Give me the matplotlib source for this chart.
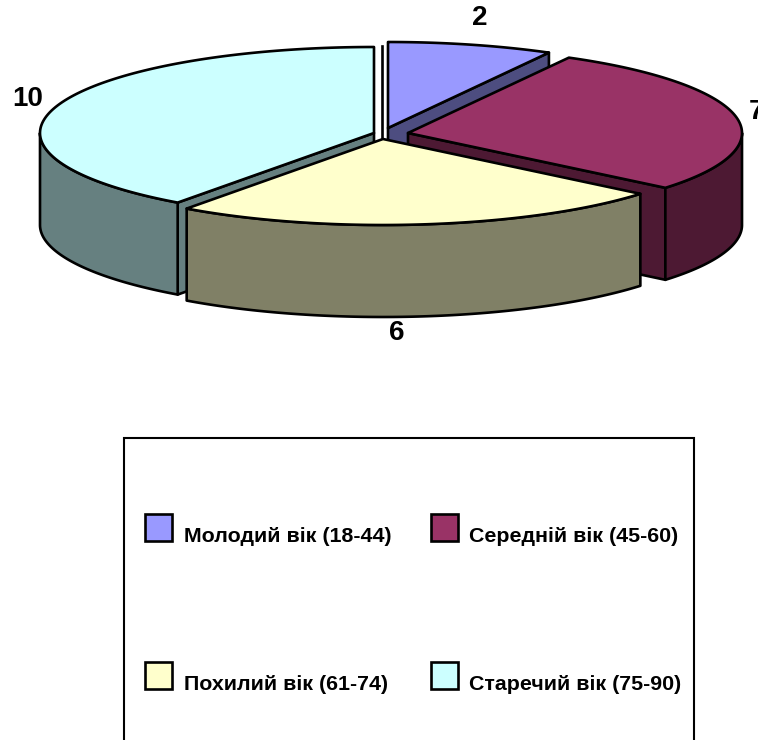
import numpy as np
import matplotlib
matplotlib.use('Agg')
import matplotlib.pyplot as plt
from matplotlib.patches import Polygon, Rectangle

plt.rcParams['font.family'] = ['Liberation Sans', 'DejaVu Sans']

# Data
categories = ['Молодий вік (18-44)', 'Середній вік (45-60)', 'Похилий вік (61-74)', 'Старечий вік (75-90)']
values = [2, 7, 6, 10]
top_colors = ['#9999FF', '#993366', '#FFFFCC', '#CCFFFF']
side_colors = ['#4D4D80', '#4D1933', '#808066', '#668080']

# Pie geometry in image pixels
apex = [(388, 128), (408, 133), (383, 139), (374, 133)]
rx, ry, depth = 334, 86, 92
lw = 1.9

fig = plt.figure(figsize=(7.58, 7.4), dpi=100)
ax = fig.add_axes([0, 0, 1, 1])
ax.set_xlim(0, 758)
ax.set_ylim(740, 0)
ax.axis('off')

# Angles run clockwise from the top, one slice after another
edges = 2 * np.pi * np.concatenate([[0], np.cumsum(values)]) / np.sum(values)


def rim(i, a0, a1):
    t = np.linspace(a0, a1, 120)
    return apex[i][0] + rx * np.sin(t), apex[i][1] - ry * np.cos(t)


def draw_slice(i):
    a0, a1 = edges[i], edges[i + 1]
    cx, cy = apex[i]
    face = dict(facecolor=side_colors[i], edgecolor='black', lw=lw, joinstyle='round')

    # Cut faces that look towards the viewer
    for a, visible in ((a0, np.cos(a0) < 0 and np.sin(a0) < 0), (a1, np.cos(a1) > 0 or np.sin(a1) > 0)):
        if visible and a < 2 * np.pi - 0.01:
            x, y = cx + rx * np.sin(a), cy - ry * np.cos(a)
            ax.add_patch(Polygon([(cx, cy), (x, y), (x, y + depth), (cx, cy + depth)], **face))

    # Outer wall, only the front half of the rim
    w0, w1 = max(a0, np.pi / 2), min(a1, 3 * np.pi / 2)
    if w1 > w0:
        x, y = rim(i, w0, w1)
        pts = np.r_[np.c_[x, y], np.c_[x[::-1], y[::-1] + depth]]
        ax.add_patch(Polygon(pts, **face))

    # Top face
    x, y = rim(i, a0, a1)
    pts = np.r_[[(cx, cy)], np.c_[x, y]]
    ax.add_patch(Polygon(pts, facecolor=top_colors[i], edgecolor='black', lw=lw, joinstyle='round'))


for i in (0, 3, 1, 2):
    draw_slice(i)

# Thin line left behind the gap at the top
ax.plot([apex[2][0] - 1, apex[2][0] - 1], [apex[3][1] - ry - 1, apex[2][1] - 2], color='black', lw=lw)

# Value labels
label_pos = [(480, 18), (749, 112), (397, 333), (28, 99)]
for v, (x, y), ha in zip(values, label_pos, ['center', 'left', 'center', 'center']):
    ax.text(x, y, str(v), fontsize=20, fontweight='bold', ha=ha, va='center')

# Legend box runs off the bottom of the image
ax.add_patch(Rectangle((124, 438), 570, 340, facecolor='white', edgecolor='black', lw=1.5))
swatch_x = [145, 431, 145, 431]
swatch_y = [514, 514, 662, 662]
text_x = [184, 469, 184, 469]
text_y = [536, 536, 684, 684]
for i in range(4):
    ax.add_patch(Rectangle((swatch_x[i], swatch_y[i]), 27, 27, facecolor=top_colors[i], edgecolor='black', lw=lw))
    ax.text(text_x[i], text_y[i], categories[i], fontsize=15.4, fontweight='bold', ha='left', va='center')

fig.savefig('out.png', dpi=100)
